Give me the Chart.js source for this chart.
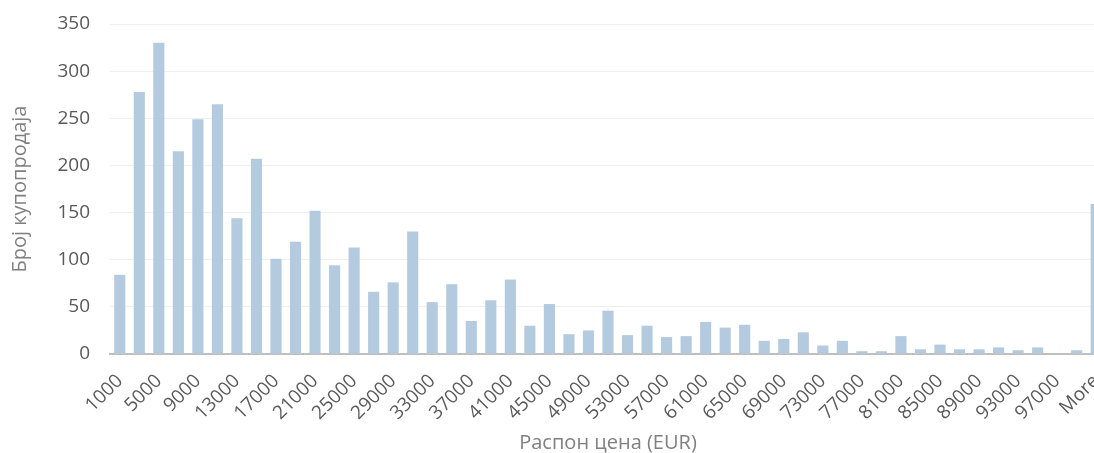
<!DOCTYPE html>
<html>
<head>
<meta charset="utf-8">
<script src="https://cdn.jsdelivr.net/npm/chart.js@4"></script>
<style>
  html, body { margin: 0; padding: 0; background: #fff; overflow: hidden; }
  #wrap { width: 1094px; height: 453px; overflow: hidden; }
</style>
</head>
<body>
<div id="wrap"><canvas id="myChart" width="1110" height="453"></canvas></div>
<script>
// price bins (EUR), last one is the overflow bin
const categories = [
    '1000', '3000', '5000', '7000', '9000', '11000', '13000', '15000', '17000', '19000',
    '21000', '23000', '25000', '27000', '29000', '31000', '33000', '35000', '37000', '39000',
    '41000', '43000', '45000', '47000', '49000', '51000', '53000', '55000', '57000', '59000',
    '61000', '63000', '65000', '67000', '69000', '71000', '73000', '75000', '77000', '79000',
    '81000', '83000', '85000', '87000', '89000', '91000', '93000', '95000', '97000', '99000',
    'More'
];

const counts = [
    84, 278, 330, 215, 249, 265, 144, 207, 101, 119,
    152, 94, 113, 66, 76, 130, 55, 74, 35, 57,
    79, 30, 53, 21, 25, 46, 20, 30, 18, 19,
    34, 28, 31, 14, 16, 23, 9, 14, 3, 3,
    19, 5, 10, 5, 5, 7, 4, 7, 0, 4,
    159
];

const yTicks = [0, 50, 100, 150, 200, 250, 300, 350];

const yTitle = 'Број купопродаја';
const xTitle = 'Распон цена (EUR)';

const fontFamily = "'Open Sans', 'Noto Sans', sans-serif";

const ctx = document.getElementById('myChart').getContext('2d');

new Chart(ctx, {
    type: 'bar',
    data: {
        labels: categories,
        datasets: [
            {
                label: yTitle,
                data: counts,
                backgroundColor: '#b4cbdf',
                borderWidth: 0,
                categoryPercentage: 1,
                barPercentage: 0.57
            }
        ]
    },
    options: {
        responsive: false,
        animation: false,
        layout: {
            padding: { top: 24, right: 4, bottom: 0, left: 8 }
        },
        plugins: {
            legend: { display: false },
            tooltip: { enabled: false }
        },
        scales: {
            x: {
                // fixed axis box so the plot lines up like the excel one
                afterFit: (scale) => {
                    scale.height = 99;
                    scale.paddingLeft = 0;
                    scale.paddingRight = 0;
                },
                grid: {
                    display: true,
                    drawOnChartArea: false,
                    color: 'transparent',
                    tickColor: 'transparent',
                    tickLength: 4
                },
                border: { display: true, color: '#bfbfbf', width: 2 },
                ticks: {
                    autoSkip: false,
                    maxRotation: 45,
                    minRotation: 45,
                    padding: 12,
                    color: '#595959',
                    font: { family: fontFamily, size: 19 },
                    callback: function (value, index) {
                        return index % 2 === 0 ? categories[index] : '';
                    }
                },
                title: {
                    display: true,
                    text: xTitle,
                    color: '#808080',
                    font: { family: fontFamily, size: 20 },
                    padding: { top: 0, bottom: -2 }
                }
            },
            y: {
                min: 0,
                max: 350,
                afterFit: (scale) => {
                    scale.width = 102;
                },
                afterBuildTicks: (axis) => {
                    axis.ticks = yTicks.map((v) => ({ value: v }));
                },
                grid: {
                    color: '#efefef',
                    tickColor: 'transparent',
                    tickLength: 18
                },
                border: { display: false },
                ticks: {
                    padding: 2,
                    color: '#595959',
                    font: { family: fontFamily, size: 19 }
                },
                title: {
                    display: true,
                    text: yTitle,
                    color: '#808080',
                    font: { family: fontFamily, size: 20 },
                    padding: { top: 0, bottom: 0 }
                }
            }
        }
    }
});
</script>
</body>
</html>
